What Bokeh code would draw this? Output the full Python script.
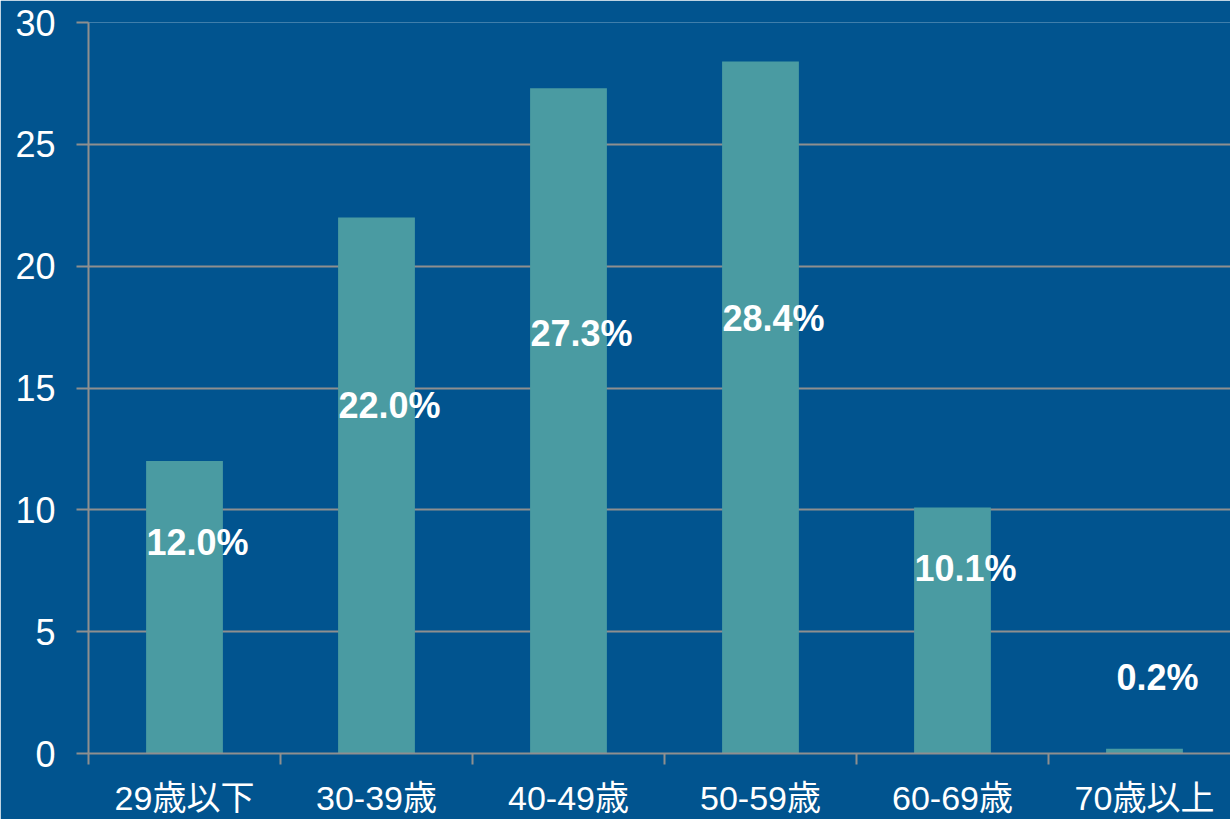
from bokeh.plotting import figure
from bokeh.models import ColumnDataSource, Range1d, FixedTicker, LabelSet
from bokeh.core.properties import value
from bokeh.embed import file_html
from bokeh.resources import INLINE

categories = ["29歳以下", "30-39歳", "40-49歳", "50-59歳", "60-69歳", "70歳以上"]
shares = [12.0, 22.0, 27.3, 28.4, 10.1, 0.2]
y_ticks = [0, 5, 10, 15, 20, 25, 30]

BG = "#01548f"
BAR = "#4a9ba2"
GRID = "#8f8f8f"
FONT = "Liberation Sans, Noto Sans CJK JP"

n = len(categories)
x = [i + 0.5 for i in range(n)]
labels = [f"{v:.1f}%" for v in shares]
label_y = [max(v * 0.56 + 1.95, 3.1) for v in shares]

src = ColumnDataSource(dict(x=x, top=shares, label=labels, ly=label_y, cat=categories))

p = figure(frame_width=1142, frame_height=731, output_backend="svg", toolbar_location=None,
           x_range=Range1d(0, 5.948), y_range=Range1d(0, 30),
           min_border_left=88, min_border_right=0, min_border_top=22, min_border_bottom=0)
p.background_fill_color = BG
p.border_fill_color = BG
p.outline_line_color = None

p.vbar(x="x", top="top", width=0.4, bottom=0, source=src, fill_color=BAR, line_color=None)

p.add_layout(LabelSet(x="x", y="ly", text="label", source=src, x_offset=13,
                      text_align="center", text_baseline="middle",
                      text_color="white", text_font=value("Liberation Sans"),
                      text_font_style="bold", text_font_size="36px"))

# y axis
p.yaxis.ticker = FixedTicker(ticks=y_ticks)
p.yaxis.axis_line_color = GRID
p.yaxis.major_tick_line_color = GRID
p.yaxis.major_tick_out = 12
p.yaxis.major_tick_in = 0
p.yaxis.minor_tick_line_color = None
p.yaxis.major_label_standoff = 21
p.yaxis.major_label_text_color = "white"
p.yaxis.major_label_text_font = FONT
p.yaxis.major_label_text_font_size = "36px"
p.yaxis.axis_line_width = 2
p.yaxis.major_tick_line_width = 2

# x axis: labels at centres, ticks at boundaries
p.xaxis.ticker = FixedTicker(ticks=x, minor_ticks=list(range(n + 1)))
p.xaxis.major_label_overrides = {xi: c for xi, c in zip(x, categories)}
p.xaxis.major_tick_line_color = None
p.xaxis.major_tick_out = 0
p.xaxis.major_tick_in = 0
p.xaxis.minor_tick_line_color = GRID
p.xaxis.minor_tick_line_width = 2
p.xaxis.minor_tick_out = 11
p.xaxis.minor_tick_in = 0
p.xaxis.axis_line_color = GRID
p.xaxis.axis_line_width = 2
p.xaxis.major_label_standoff = 14
p.xaxis.major_label_text_color = "white"
p.xaxis.major_label_text_font = FONT
p.xaxis.major_label_text_font_size = "34px"

p.xgrid.grid_line_color = None
p.ygrid.ticker = FixedTicker(ticks=y_ticks)
p.ygrid.grid_line_color = GRID
p.ygrid.grid_line_width = 2

open("out.html", "w").write(file_html(p, INLINE))
